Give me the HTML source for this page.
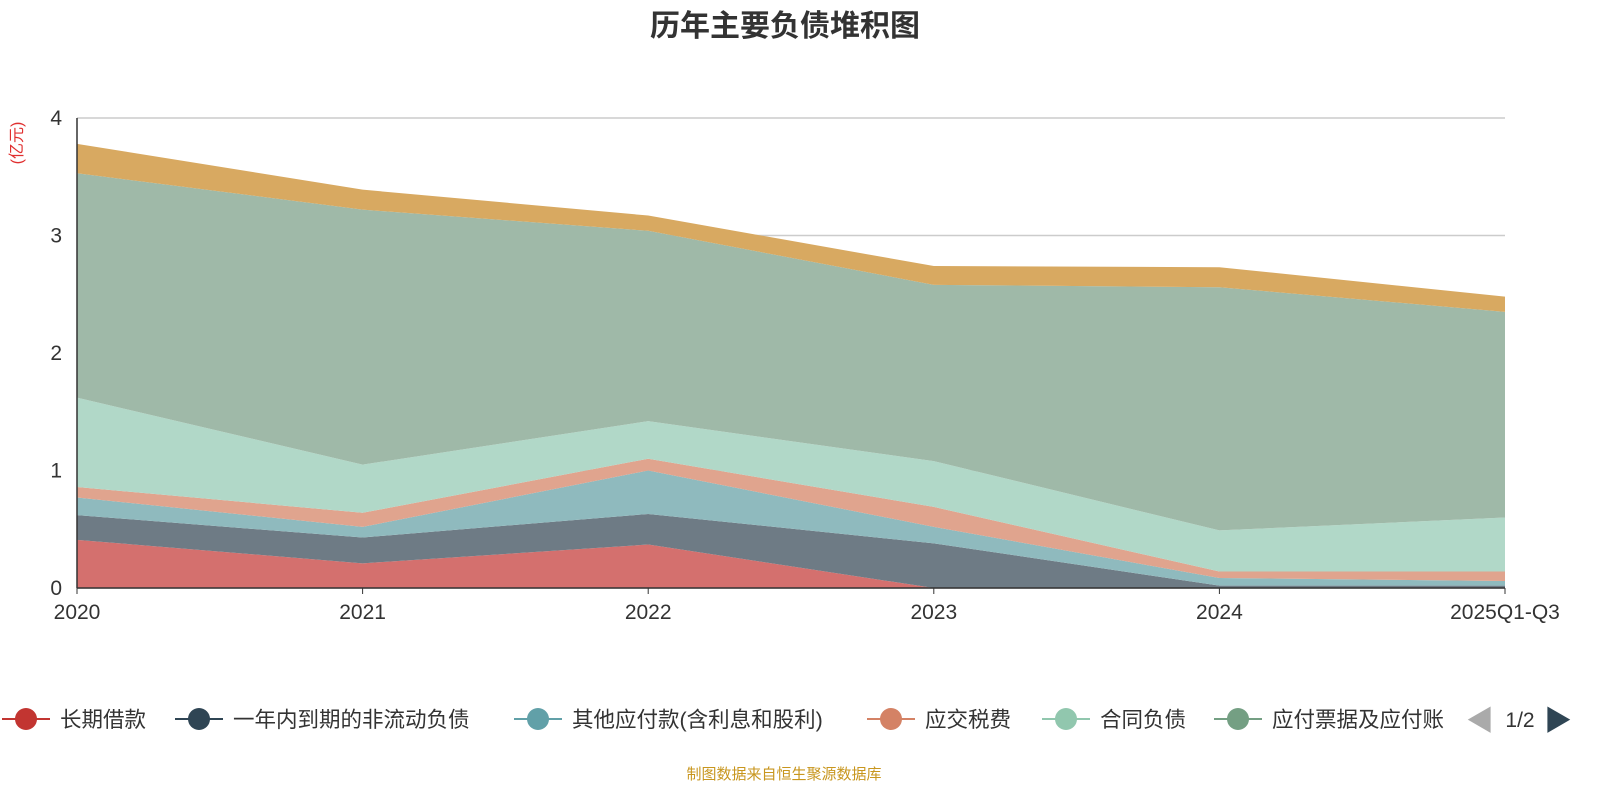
<!DOCTYPE html>
<html><head><meta charset="utf-8"><style>
body{margin:0;width:1600px;height:800px;background:#fff;font-family:"Liberation Sans","Noto Sans CJK SC",sans-serif;overflow:hidden}
</style></head><body>
<svg id="chart" width="1600" height="800" xmlns="http://www.w3.org/2000/svg" font-family="Liberation Sans, Noto Sans CJK SC, sans-serif">
<text x="785" y="36" text-anchor="middle" font-size="30" font-weight="bold" fill="#333">历年主要负债堆积图</text>
<text transform="translate(22,143) rotate(-90)" text-anchor="middle" font-size="16" fill="#e03030">(亿元)</text>
<g id="grid"></g><g id="areas"></g><g id="axes"></g><g id="legend"></g>
<text x="1480" y="730" font-size="28" fill="#aaa" text-anchor="middle">◀</text>
<text x="1520" y="727" font-size="21" fill="#333" text-anchor="middle">1/2</text>
<text x="1558" y="730" font-size="28" fill="#2f4554" text-anchor="middle">▶</text>
<text x="784" y="779" text-anchor="middle" font-size="15" fill="#c8961e">制图数据来自恒生聚源数据库</text>
</svg>
<script>
const categories=["2020","2021","2022","2023","2024","2025Q1-Q3"];
const seriesNames=["长期借款","一年内到期的非流动负债","其他应付款(含利息和股利)","应交税费","合同负债","应付票据及应付账款","其他"];
const sLongLoan=[0.41,0.21,0.37,0,0,0];
const sCurrentNonCurrent=[0.21,0.22,0.26,0.38,0.02,0.02];
const sOtherPayables=[0.15,0.09,0.37,0.14,0.065,0.04];
const sTaxes=[0.09,0.12,0.10,0.17,0.055,0.08];
const sContract=[0.76,0.41,0.32,0.39,0.35,0.46];
const sNotesPayable=[1.91,2.17,1.62,1.50,2.07,1.75];
const sOther=[0.25,0.17,0.13,0.16,0.17,0.13];
const yTicks=[0,1,2,3,4];
const series=[sLongLoan,sCurrentNonCurrent,sOtherPayables,sTaxes,sContract,sNotesPayable,sOther];
const fills=["#d4706e","#6e7b85","#8fbabe","#e0a48e","#b1d8c8","#9fb9a8","#d8a961"];
const legendColors=["#c23531","#2f4554","#61a0a8","#d48265","#91c7ae","#749f83"];
const NS="http://www.w3.org/2000/svg";
const x0=77,x1=1505,yb=588,yt=118;
const xs=i=>x0+(x1-x0)*i/(categories.length-1);
const ys=v=>yb-(yb-yt)*v/4;
function mk(t,a,p){const e=document.createElementNS(NS,t);for(const k in a)e.setAttribute(k,a[k]);p.appendChild(e);return e;}
const grid=document.getElementById('grid'),axes=document.getElementById('axes'),areas=document.getElementById('areas');
yTicks.forEach(t=>{
 const l=mk('line',{x1:x0,x2:x1,y1:ys(t),y2:ys(t),stroke:'#ccc','stroke-width':1.5},grid);
 
 
 const tx=mk('text',{x:62,y:ys(t)+7,'text-anchor':'end','font-size':21,fill:'#333'},axes);tx.textContent=t;
 
 
});
let cum=categories.map(()=>0);
series.forEach((s,k)=>{
 const lo=cum.slice();cum=cum.map((c,i)=>c+s[i]);
 let d='M'+categories.map((_,i)=>xs(i)+','+ys(cum[i])).join('L');
 for(let i=categories.length-1;i>=0;i--)d+='L'+xs(i)+','+ys(lo[i]);
 const p=mk('path',{d:d+'Z',fill:fills[k]},areas);
 
 
});
mk('line',{x1:x0,x2:x0,y1:yt,y2:yb,stroke:'#333','stroke-width':1.5},axes);
mk('line',{x1:x0,x2:x1,y1:yb,y2:yb,stroke:'#333','stroke-width':1.5},axes);
categories.forEach((c,i)=>{
 mk('line',{x1:xs(i),x2:xs(i),y1:yb,y2:yb+6,stroke:'#333'},axes);
 const t=mk('text',{x:xs(i),y:619,'text-anchor':'middle','font-size':21,fill:'#333'},axes);t.textContent=c;
 
 
});
const lg=document.getElementById('legend');
const lx=[0,173,512,865,1040,1212];
const labels=["长期借款","一年内到期的非流动负债","其他应付款(含利息和股利)","应交税费","合同负债","应付票据及应付账"];
labels.forEach((n,i)=>{
 const g=mk('g',{},lg);
 
 
 mk('line',{x1:lx[i]+2,x2:lx[i]+50,y1:719,y2:719,stroke:legendColors[i],'stroke-width':2},g);
 mk('circle',{cx:lx[i]+26,cy:719,r:11,fill:legendColors[i]},g);
 const t=mk('text',{x:lx[i]+60,y:727,'font-size':21.5,fill:'#333'},g);t.textContent=n;
});
</script>
</body></html>
